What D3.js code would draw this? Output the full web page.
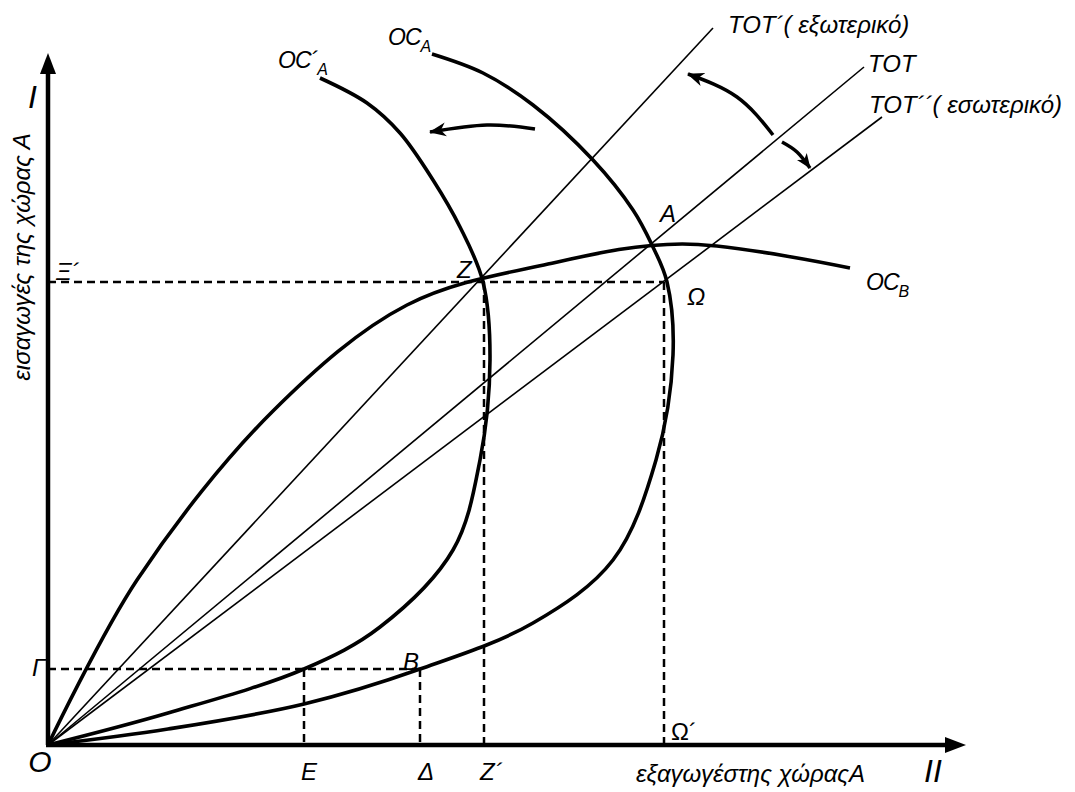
<!DOCTYPE html>
<html><head><meta charset="utf-8">
<script src="https://cdn.jsdelivr.net/npm/d3@7"></script>
<style>
body{margin:0;background:#fff}
text{font-family:"Liberation Sans",Arial,sans-serif;font-style:italic;fill:#000}
</style>
</head><body>
<svg id="c" width="1075" height="792"></svg>
<script>
// ---------- data (diagram units) ----------
const ocB = [[0,0],[8.9,16.5],[22.5,33.4],[35.9,44.0],[50.0,48.1],[63.4,50.1],[80.2,47.7]];
const ocA = [[38.4,69.1],[43.5,67.2],[48.5,64.0],[54.5,58.5],[58.5,53.5],[60.4,50.0],[61.9,46.3],[62.5,39.0],[60.8,28.5],[56.5,18.5],[48.5,12.2],[37.2,7.6],[25.6,4.1],[12.0,1.6],[0,0]];
const ocA2 = [[27.2,66.7],[31.9,64.2],[35.2,61.2],[38.5,56.5],[41.2,51.8],[43.5,46.3],[44.2,38.5],[43.2,28.5],[40.5,19.5],[33.2,11.8],[25.6,7.6],[12.0,3.2],[0,0]];
const totEnds = [[66.5,71.7],[81.6,67.8],[83.4,62.8]];
const hGuides = [[0,46.3,61.6],[0,7.6,37.2]];          // [x0, y, x1]
const vGuides = [[43.6,46.3],[61.6,46.3],[25.6,7.6],[37.2,7.6]]; // [x, yTop]
const shiftArrows = [
  [[48.7,61.6],[43.9,62.0],[38.2,61.3]],
  [[72.5,61.0],[68.9,64.8],[64.0,67.1]],
  [[73.4,60.3],[74.9,59.3],[76.2,57.7]]
];
const axisEnds = {x:91.8, y:69.2};
const labels = [
  {t:"I", x:-2.0, y:63.7, s:32},
  {t:"O", x:-0.8, y:-2.7, s:30, a:"middle"},
  {t:"Γ", x:-1.6, y:6.9, s:24},
  {t:"Ξ´", x:0.8, y:46.5, s:24},
  {t:"E", x:26.1, y:-3.5, s:24, a:"middle"},
  {t:"Δ", x:37.8, y:-3.5, s:24, a:"middle"},
  {t:"Z´", x:43.2, y:-3.5, s:24},
  {t:"Ω´", x:62.3, y:0.5, s:24, n:true},
  {t:"εξαγωγέστης χώραςA", x:58.8, y:-3.7, s:24},
  {t:"II", x:87.6, y:-3.7, s:32},
  {t:"Z", x:40.9, y:46.7, s:24},
  {t:"A", x:61.2, y:52.3, s:24},
  {t:"Ω", x:63.9, y:44.0, s:24},
  {t:"B", x:35.5, y:7.5, s:24},
  {t:"TOT´( εξωτερικό)", x:68.0, y:71.2, s:24},
  {t:"TOT", x:82.0, y:67.3, s:24},
  {t:"TOT´´( εσωτερικό)", x:82.1, y:63.2, s:24}
];
const subLabels = [
  {t:"OC", sub:"B", x:81.8, y:45.5},
  {t:"OC", sub:"A", x:34.0, y:70.0},
  {t:"OC´", sub:"A", x:23.0, y:67.7}
];
const yTitle = {t:"εισαγωγές της χώρας Α", x:-1.8, y:48.8};

// ---------- scales ----------
const x = d3.scaleLinear().domain([0,92]).range([48,968]);
const y = d3.scaleLinear().domain([0,69.4]).range([745,51]);
const svg = d3.select("#c");

const defs = svg.append("defs");
defs.append("marker").attr("id","ah").attr("viewBox","-17 -8 19 16")
  .attr("refX",-1).attr("refY",0).attr("markerWidth",19).attr("markerHeight",16)
  .attr("markerUnits","userSpaceOnUse").attr("orient","auto")
  .append("path").attr("d","M0,0 L-17,-7 L-12,0 L-17,7 Z").attr("fill","#000");
defs.append("marker").attr("id","ahs").attr("viewBox","-15 -7 17 14")
  .attr("refX",-1).attr("refY",0).attr("markerWidth",17).attr("markerHeight",14)
  .attr("markerUnits","userSpaceOnUse").attr("orient","auto")
  .append("path").attr("d","M0,0 L-15,-6 L-11,0 L-15,6 Z").attr("fill","#000");

const line = d3.line().x(d=>x(d[0])).y(d=>y(d[1])).curve(d3.curveCatmullRom.alpha(0.5));

// guides (dashed)
svg.selectAll(".hg").data(hGuides).join("line")
  .attr("x1",d=>x(d[0])).attr("x2",d=>x(d[2])).attr("y1",d=>y(d[1])).attr("y2",d=>y(d[1]))
  .attr("stroke","#000").attr("stroke-width",2.5).attr("stroke-dasharray","8,5");
svg.selectAll(".vg").data(vGuides).join("line")
  .attr("x1",d=>x(d[0])).attr("x2",d=>x(d[0])).attr("y1",d=>y(d[1])).attr("y2",y(0))
  .attr("stroke","#000").attr("stroke-width",2.5).attr("stroke-dasharray","8,5");

// terms-of-trade rays
svg.selectAll(".tot").data(totEnds).join("line")
  .attr("x1",x(0)).attr("y1",y(0)).attr("x2",d=>x(d[0])).attr("y2",d=>y(d[1]))
  .attr("stroke","#000").attr("stroke-width",1.6);

// offer curves
[ocB, ocA, ocA2].forEach(c=>{
  svg.append("path").attr("d",line(c)).attr("fill","none")
    .attr("stroke","#000").attr("stroke-width",3.6).attr("stroke-linejoin","round");
});

// shift arrows
const aline = d3.line().x(d=>x(d[0])).y(d=>y(d[1])).curve(d3.curveNatural);
shiftArrows.forEach((a,i)=>{
  svg.append("path").attr("d",aline(a)).attr("fill","none")
    .attr("stroke","#000").attr("stroke-width",3.5)
    .attr("marker-end", i===2 ? "url(#ahs)" : "url(#ah)");
});

// axes
svg.append("line").attr("x1",x(0)).attr("y1",y(0)).attr("x2",x(0)).attr("y2",y(axisEnds.y)+18)
  .attr("stroke","#000").attr("stroke-width",4.5);
svg.append("line").attr("x1",x(0)-2).attr("y1",y(0)).attr("x2",x(axisEnds.x)-18).attr("y2",y(0))
  .attr("stroke","#000").attr("stroke-width",4.5);
svg.append("path").attr("fill","#000")
  .attr("d",`M${x(0)},${y(axisEnds.y)} L${x(0)-8},${y(axisEnds.y)+21} L${x(0)+8},${y(axisEnds.y)+21} Z`);
svg.append("path").attr("fill","#000")
  .attr("d",`M${x(axisEnds.x)},${y(0)} L${x(axisEnds.x)-21},${y(0)-8} L${x(axisEnds.x)-21},${y(0)+8} Z`);

// labels
svg.selectAll(".lb").data(labels).join("text")
  .attr("x",d=>x(d.x)).attr("y",d=>y(d.y))
  .attr("font-size",d=>d.s).attr("text-anchor",d=>d.a||"start")
  .style("font-style",d=>d.n?"normal":"italic")
  .text(d=>d.t);

subLabels.forEach(d=>{
  const t = svg.append("text").attr("x",x(d.x)).attr("y",y(d.y)).attr("font-size",23)
    .attr("letter-spacing",-1);
  t.append("tspan").text(d.t);
  t.append("tspan").attr("font-size",16).attr("dy",7).attr("dx",0).text(d.sub);
});

svg.append("text").attr("transform",`translate(${x(yTitle.x)},${y(yTitle.y)}) rotate(-90)`)
  .attr("text-anchor","middle").attr("font-size",24).text(yTitle.t);
</script>
</body></html>
